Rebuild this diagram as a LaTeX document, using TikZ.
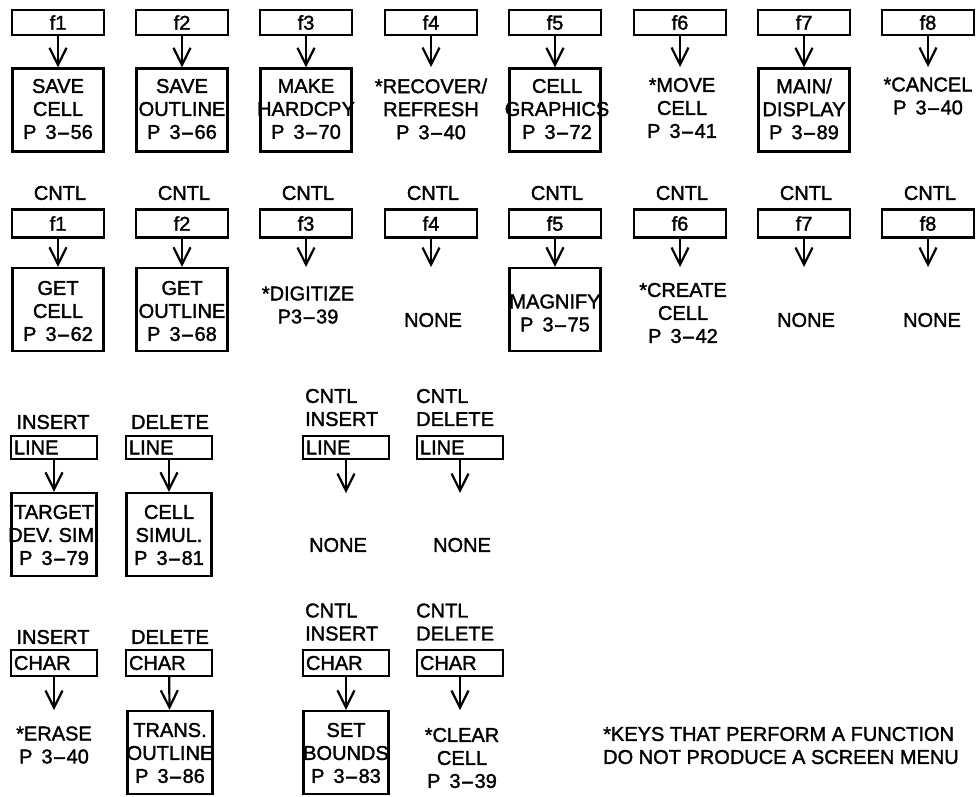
\documentclass[tikz,border=0pt]{standalone}
\usepackage{fontspec}
\setmainfont{Liberation Sans}
\newfontfamily\plotfont{Liberation Sans}[FakeBold=1.6]
\usepackage{graphicx}
\usetikzlibrary{arrows.meta}
\newcommand\ft{\plotfont\fontsize{20pt}{23pt}\selectfont}
\newcommand\hy{\scalebox{2.1}[1]{-}}
\newcommand\pgn[2]{P\hspace{9pt}#1\hy#2}
\begin{document}
\begin{tikzpicture}[x=1pt,y=-1pt,
  bx/.style={draw,line width=2.4pt,inner sep=0pt},
  key/.style={bx,minimum width=92pt,minimum height=25pt,font=\ft},
  keyb/.style={key,minimum height=28pt},
  keyl/.style={bx,text width=80pt,align=left,inner xsep=3pt,inner ysep=0pt,minimum height=#1,font=\ft},
  res/.style={bx,minimum width=91pt,minimum height=83pt},
  resl/.style={bx,minimum width=85pt,minimum height=83pt},
  txt/.style={align=center,inner sep=0pt,font=\ft},
  lbl/.style={align=left,inner sep=0pt,font=\ft},
  arr/.style={line width=2.2pt,-{Straight Barb[length=17pt,width=17pt]}}
]
\fill[white] (0,0) rectangle (977,796);
% ---------- Row 1 ----------
\node[key] (k1) at (58,22.5) {f1};
\node[key] (k2) at (182,22.5) {f2};
\node[key] (k3) at (306,22.5) {f3};
\node[key] (k4) at (431,22.5) {f4};
\node[key] (k5) at (555,22.5) {f5};
\node[key] (k6) at (680,22.5) {f6};
\node[key] (k7) at (804,22.5) {f7};
\node[key] (k8) at (928,22.5) {f8};
\node[res] (r1) at (58,110) {};
\node[res] (r2) at (182,110) {};
\node[res] (r3) at (306,110) {};
\node[res] (r5) at (555,110) {};
\node[res] (r7) at (804,110) {};
\coordinate (e4) at (431,67);
\coordinate (e6) at (680,67);
\coordinate (e8) at (928,67);
\node[txt] (t1) at (58,109) {SAVE\\CELL\\\pgn{3}{56}};
\node[txt] (t2) at (182,109) {SAVE\\OUTLINE\\\pgn{3}{66}};
\node[txt] (t3) at (306,109) {MAKE\\HARDCPY\\\pgn{3}{70}};
\node[txt] (t4) at (431,109) {*RECOVER/\\REFRESH\\\pgn{3}{40}};
\node[txt] (t5) at (557,109) {CELL\\GRAPHICS\\\pgn{3}{72}};
\node[txt] (t6) at (682,108) {*MOVE\\CELL\\\pgn{3}{41}};
\node[txt] (t7) at (804,109) {MAIN/\\DISPLAY\\\pgn{3}{89}};
\node[txt] (t8) at (928,96) {*CANCEL\\\pgn{3}{40}};
\draw[arr] (k1) -- (r1);
\draw[arr] (k2) -- (r2);
\draw[arr] (k3) -- (r3);
\draw[arr] (k4) -- (e4);
\draw[arr] (k5) -- (r5);
\draw[arr] (k6) -- (e6);
\draw[arr] (k7) -- (r7);
\draw[arr] (k8) -- (e8);
% ---------- Row 2 ----------
\foreach \i/\x in {1/58,2/182,3/306,4/431,5/555,6/680,7/804,8/928}{
  \node[txt] (c\i) at (\x+2,193) {CNTL};
  \node[keyb] (m\i) at (\x,223.5) {f\i};
}
\node[res] (s1) at (58,309.5) {};
\node[res] (s2) at (182,309.5) {};
\node[res] (s5) at (555,309.5) {};
\coordinate (g3) at (306,267);
\coordinate (g4) at (431,267);
\coordinate (g6) at (680,267);
\coordinate (g7) at (804,267);
\coordinate (g8) at (928,267);
\node[txt] (u1) at (58,311) {GET\\CELL\\\pgn{3}{62}};
\node[txt] (u2) at (182,311) {GET\\OUTLINE\\\pgn{3}{68}};
\node[txt] (u3) at (308,305) {*DIGITIZE\\P3\hy39};
\node[txt] (u4) at (433,320) {NONE};
\node[txt] (u5) at (555,313) {MAGNIFY\\\pgn{3}{75}};
\node[txt] (u6) at (683,313) {*CREATE\\CELL\\\pgn{3}{42}};
\node[txt] (u7) at (806,320) {NONE};
\node[txt] (u8) at (932,320) {NONE};
\draw[arr] (m1) -- (s1);
\draw[arr] (m2) -- (s2);
\draw[arr] (m3) -- (g3);
\draw[arr] (m4) -- (g4);
\draw[arr] (m5) -- (s5);
\draw[arr] (m6) -- (g6);
\draw[arr] (m7) -- (g7);
\draw[arr] (m8) -- (g8);
% ---------- Row 3 ----------
\node[txt] (a1) at (53,422) {INSERT};
\node[txt] (a2) at (170,422) {DELETE};
\node[lbl,anchor=west] (a3) at (305,407.5) {CNTL\\INSERT};
\node[lbl,anchor=west] (a4) at (416,407.5) {CNTL\\DELETE};
\node[keyl=23pt] (n1) at (54,447.5) {LINE};
\node[keyl=23pt] (n2) at (169,447.5) {LINE};
\node[keyl=23pt] (n3) at (346,447.5) {LINE};
\node[keyl=23pt] (n4) at (460,447.5) {LINE};
\node[resl] (q1) at (54,534.5) {};
\node[resl] (q2) at (169,534.5) {};
\coordinate (h3) at (346,493);
\coordinate (h4) at (460,493);
\node[txt] (v1) at (54,535) {TARGET\\DEV. SIM.\\\pgn{3}{79}};
\node[txt] (v2) at (169,535) {CELL\\SIMUL.\\\pgn{3}{81}};
\node[txt] (v3) at (338,545) {NONE};
\node[txt] (v4) at (462,545) {NONE};
\draw[arr] (n1) -- (q1);
\draw[arr] (n2) -- (q2);
\draw[arr] (n3) -- (h3);
\draw[arr] (n4) -- (h4);
% ---------- Row 4 ----------
\node[txt] (b1) at (53,637) {INSERT};
\node[txt] (b2) at (170,637) {DELETE};
\node[lbl,anchor=west] (b3) at (305,622) {CNTL\\INSERT};
\node[lbl,anchor=west] (b4) at (416,622) {CNTL\\DELETE};
\node[keyl=26pt] (o1) at (54,663) {CHAR};
\node[keyl=26pt] (o2) at (169,663) {CHAR};
\node[keyl=26pt] (o3) at (346,663) {CHAR};
\node[keyl=26pt] (o4) at (460,663) {CHAR};
\node[resl] (p2) at (170,752.5) {};
\node[resl] (p3) at (346,752.5) {};
\coordinate (j1) at (54,710);
\coordinate (j4) at (460,710);
\node[txt] (w1) at (54,745) {*ERASE\\\pgn{3}{40}};
\node[txt] (w2) at (170,753) {TRANS.\\OUTLINE\\\pgn{3}{86}};
\node[txt] (w3) at (346,753) {SET\\BOUNDS\\\pgn{3}{83}};
\node[txt] (w4) at (462,758) {*CLEAR\\CELL\\\pgn{3}{39}};
\draw[arr] (o1) -- (j1);
\draw[arr] (o2) -- (p2);
\draw[arr] (o3) -- (p3);
\draw[arr] (o4) -- (j4);
% ---------- Footnote ----------
\node[lbl,anchor=west] (fn) at (603,745.5) {*KEYS THAT PERFORM A FUNCTION\\DO NOT PRODUCE A SCREEN MENU};
\end{tikzpicture}
\end{document}
